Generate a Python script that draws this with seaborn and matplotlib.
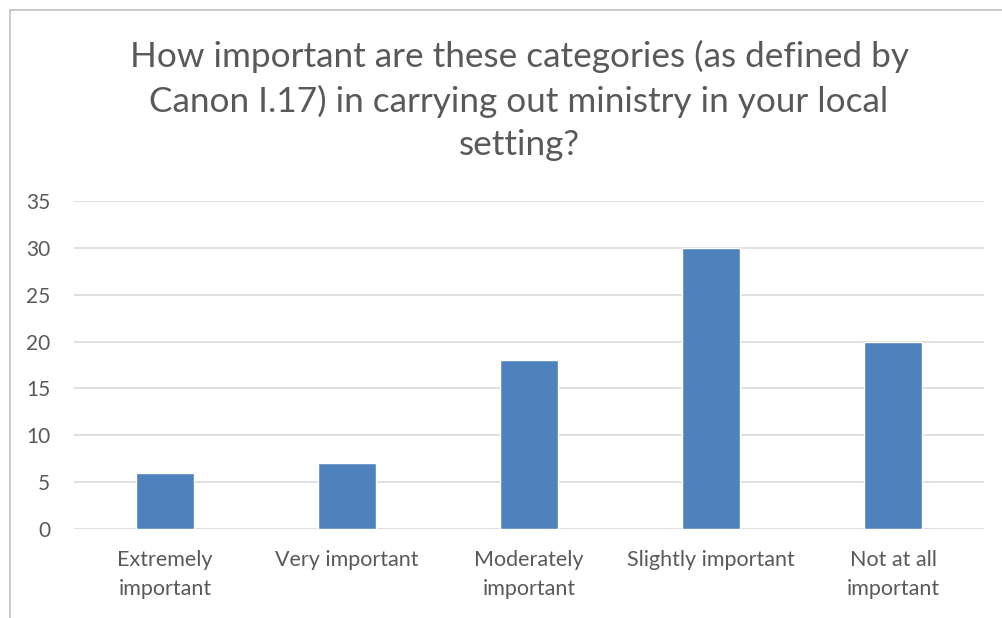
import matplotlib
matplotlib.use("Agg")
import matplotlib.pyplot as plt
import seaborn as sns
import pandas as pd
from matplotlib.lines import Line2D

categories = ["Extremely\nimportant", "Very important", "Moderately\nimportant",
              "Slightly important", "Not at all\nimportant"]
values = [6, 7, 18, 30, 20]
yticks = [0, 5, 10, 15, 20, 25, 30, 35]
title = "How important are these categories (as defined by\nCanon I.17) in carrying out ministry in your local\nsetting?"

sns.set_style("white")
plt.rcParams['font.family'] = ['Lato', 'DejaVu Sans']

fig = plt.figure(figsize=(10.02, 6.18), dpi=100)
ax = fig.add_axes([74/1002, 1-529/618, 910/1002, 328/618])

df = pd.DataFrame({"cat": categories, "val": values})
sns.barplot(data=df, x="cat", y="val", color="#4F81BD", width=0.32,
            saturation=1, ax=ax, zorder=3)

ax.set_ylim(0, 35)
ax.set_yticks(yticks)
ax.set_xlim(-0.5, 4.5)
ax.grid(axis="y", color="#D9D9D9", linewidth=1.2, zorder=0)
ax.set_axisbelow(True)
for s in ax.spines.values():
    s.set_visible(False)
ax.set_xlabel("")
ax.set_ylabel("")
ax.tick_params(axis="y", length=0, pad=17, labelsize=15, labelcolor="#595959")
ax.tick_params(axis="x", length=0, pad=15, labelsize=15.5, labelcolor="#595959")
for lbl in ax.get_xticklabels():
    lbl.set_linespacing(1.55)

fig.text(519/1002, 1-40/618, title, ha="center", va="top", fontsize=25.3,
         color="#595959", linespacing=1.42)

# outer chart border (partially visible)
fig.add_artist(Line2D([10/1002, 10/1002], [0, 1-10/618], color="#BFBFBF",
                      linewidth=1.2, transform=fig.transFigure))
fig.add_artist(Line2D([10/1002, 1], [1-10/618, 1-10/618], color="#BFBFBF",
                      linewidth=1.2, transform=fig.transFigure))

fig.savefig("out.png", dpi=100)
